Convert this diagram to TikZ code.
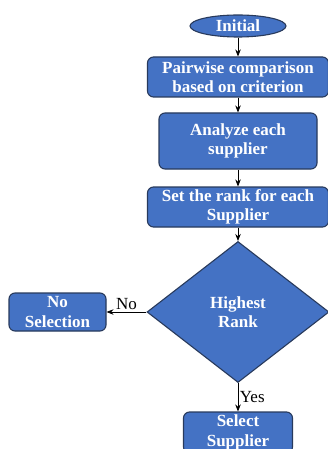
\documentclass[tikz,border=0pt]{standalone}
\usepackage{fontspec}
\setmainfont{Liberation Serif}
\usetikzlibrary{shapes.geometric,arrows.meta}
\definecolor{boxfill}{HTML}{4472C4}
\definecolor{boxedge}{HTML}{283A5C}
\begin{document}
\begin{tikzpicture}[x=1pt,y=-1pt,
  block/.style={draw=boxedge, line width=1.1pt, fill=boxfill, rounded corners=6pt,
    text=white, font=\fontsize{17}{19.5}\selectfont\bfseries, align=center, inner sep=0pt},
  flow/.style={-{Stealth[length=7pt,width=5.5pt]}, line width=0.8pt, black},
  lbl/.style={font=\fontsize{17}{19}\selectfont, text=black, inner sep=1.5pt}]
\useasboundingbox (0,0) rectangle (328,449);

% main column
\node[block, ellipse, rounded corners=0pt, minimum width=96pt, minimum height=22pt] (init) at (238,26) {Initial};
\node[block, minimum width=181pt, minimum height=40pt] (pair) at (238,77) {Pairwise comparison\\based on criterion};
\node[block, minimum width=158pt, minimum height=56pt] (anal) at (238,141) {Analyze each\\supplier};
\node[block, minimum width=181pt, minimum height=40pt] (rank) at (238,207) {Set the rank for each\\Supplier};
\node[block, diamond, rounded corners=0pt, aspect=1.29, minimum width=182pt, minimum height=141pt] (dec) at (238,312) {Highest\\Rank};
\node[block, minimum width=109pt, minimum height=41pt] (sel) at (238,432.5) {Select\\Supplier};

% side branch
\node[block, minimum width=97pt, minimum height=38pt] (nosel) at (57.5,312) {No\\Selection};

% connectors
\draw[flow] (init) -- (pair);
\draw[flow] (pair) -- (anal);
\draw[flow] (anal) -- (rank);
\draw[flow] (rank) -- (dec);
\draw[flow] (dec) -- node[lbl, right] {Yes} (sel);
\draw[flow] (dec) -- node[lbl, above] {No} (nosel);
\end{tikzpicture}
\end{document}
